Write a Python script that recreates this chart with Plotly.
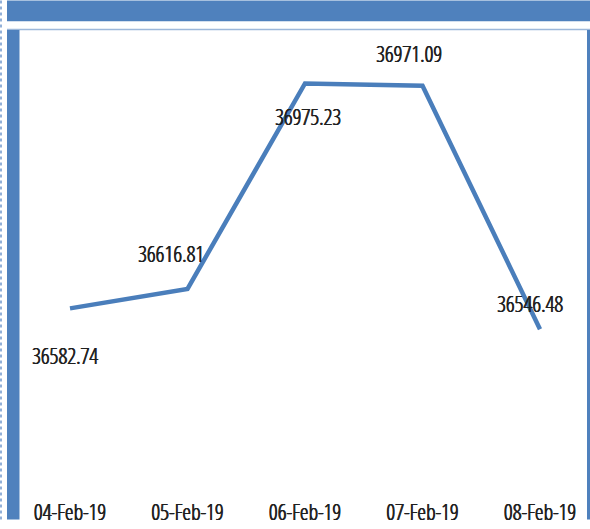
import plotly.graph_objects as go

dates = ["04-Feb-19", "05-Feb-19", "06-Feb-19", "07-Feb-19", "08-Feb-19"]
values = [36582.74, 36616.81, 36975.23, 36971.09, 36546.48]
label_text = ["36582.74", "36616.81", "36975.23", "36971.09", "36546.48"]
label_dx = [-5, -17, 3, -14, -10]
label_dy = [-47, 36, -33, 33, 26]

W, H = 590, 529
ML, MR, MT, MB = 20, 3, 30, 27
PW, PH = W - ML - MR, H - MT - MB

def px(x):
    return (x - ML) / PW

def py(y):
    return (H - MB - y) / PH

BLUE = "#4F81BD"
TXT = "#1f1f1f"
FONT = dict(family="Open Sans Condensed Light, Open Sans Condensed, DejaVu Sans Condensed, sans-serif",
            size=22, weight=300, color=TXT,
            shadow="0.5px 0 0 #1f1f1f, -0.3px 0 0 #1f1f1f")

xs = list(range(len(dates)))
fig = go.Figure()
fig.add_trace(go.Scatter(
    x=xs, y=values, mode="lines",
    line=dict(color="#4A7EBB", width=4.5),
    hoverinfo="skip", showlegend=False,
))

for i, (v, t) in enumerate(zip(values, label_text)):
    fig.add_annotation(x=xs[i], y=v, text=t, showarrow=False,
                       xshift=label_dx[i], yshift=label_dy[i], font=FONT)

shapes = [
    dict(type="rect", x0=px(7), x1=px(590), y0=py(21), y1=py(0),
         fillcolor=BLUE, line=dict(width=0)),
    dict(type="line", x0=px(7), x1=px(590), y0=py(29.5), y1=py(29.5),
         line=dict(color="#9DB8DA", width=1.5)),
    dict(type="rect", x0=px(7), x1=px(19.5), y0=py(529), y1=py(30),
         fillcolor=BLUE, line=dict(width=0)),
    dict(type="rect", x0=px(587), x1=px(590), y0=py(529), y1=py(30),
         fillcolor=BLUE, line=dict(width=0)),
    dict(type="line", x0=px(1), x1=px(1), y0=py(529), y1=py(0),
         line=dict(color="#6F97CC", width=1.5, dash="dot")),
]
for s in shapes:
    s.update(xref="paper", yref="paper", layer="above")

fig.update_layout(
    width=W, height=H,
    margin=dict(l=ML, r=MR, t=MT, b=MB, pad=0),
    paper_bgcolor="white", plot_bgcolor="white",
    shapes=shapes,
    xaxis=dict(range=[(ML - 70) / 117.5, (W - MR - 70) / 117.5],
               tickvals=xs, ticktext=dates, showgrid=False, zeroline=False,
               showline=False, ticks="", ticklabelstandoff=4,
               tickfont=FONT),
    yaxis=dict(range=[36260.65, 37068.5], visible=False, showgrid=False),
)

fig.write_html("out.html", config={"displayModeBar": False},
               post_script="document.body.style.margin='0';document.body.style.overflow='hidden';")
